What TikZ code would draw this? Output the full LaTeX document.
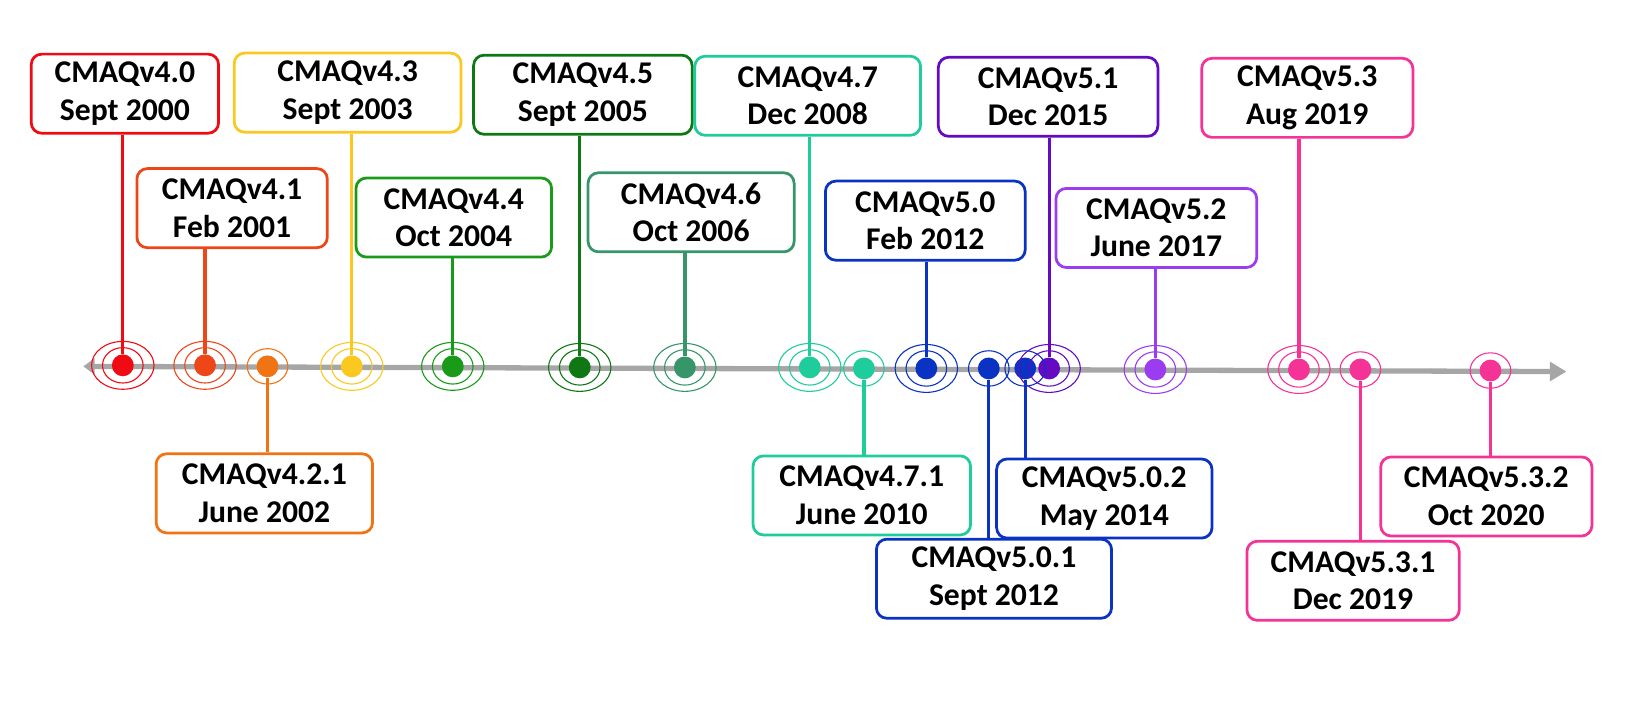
\documentclass[tikz,border=0pt]{standalone}
\usepackage{fontspec}
\setmainfont{Carlito}
\usepackage{xcolor}
\usepackage{tikz}
\usetikzlibrary{positioning,arrows.meta}
\definecolor{v40color}{RGB}{240,10,20}
\definecolor{v41color}{RGB}{236,70,25}
\definecolor{v42color}{RGB}{240,115,20}
\definecolor{v43color}{RGB}{250,200,30}
\definecolor{v44color}{RGB}{25,155,25}
\definecolor{v45color}{RGB}{15,120,20}
\definecolor{v46color}{RGB}{55,150,105}
\definecolor{v47color}{RGB}{30,205,155}
\definecolor{v50color}{RGB}{10,50,195}
\definecolor{v51color}{RGB}{100,10,195}
\definecolor{v52color}{RGB}{155,60,240}
\definecolor{v53color}{RGB}{245,50,150}
\definecolor{axiscolor}{RGB}{166,166,166}
\tikzset{
    release box/.style={rectangle, rounded corners=0.2cm, draw=#1, line width=1.5pt, fill=white, align=center, inner sep=0pt, minimum height=1.52cm, font=\bfseries\fontsize{17.3}{20.5}\selectfont},
    release dot/.style={circle, fill=#1, inner sep=0pt, minimum size=0.42cm},
    ring/.style={draw=#1, line width=0.6pt},
    stem/.style={draw=#1, line width=1.8pt},
    timeline arrow/.style={{Triangle[length=0.22cm,width=0.3cm]}-{Triangle[length=0.32cm,width=0.36cm]}, line width=2.9pt, draw=axiscolor}
}
\begin{document}
\begin{tikzpicture}[x=0.02cm, y=-0.02cm]
\useasboundingbox (0,0) rectangle (1568,692);
\coordinate (tl start) at (80,352);
\coordinate (tl end) at (1505,357);
\draw[timeline arrow] (tl start) -- (tl end);

\node[release dot=v40color] (v40) at (118,351) {};
\node[release dot=v41color] (v41) at (197,351) {};
\node[release dot=v42color] (v421) at (257,352) {};
\node[release dot=v43color] (v43) at (338,352) {};
\node[release dot=v44color] (v44) at (435,352) {};
\node[release dot=v45color] (v45) at (557,353) {};
\node[release dot=v46color] (v46) at (658,353) {};
\node[release dot=v47color] (v47) at (778,353) {};
\node[release dot=v47color] (v471) at (830,354) {};
\node[release dot=v50color] (v50) at (890,354) {};
\node[release dot=v50color] (v501) at (950,354) {};
\node[release dot=v50color] (v502) at (985,354) {};
\node[release dot=v51color] (v51) at (1008,354) {};
\node[release dot=v52color] (v52) at (1110,355) {};
\node[release dot=v53color] (v53) at (1248,355) {};
\node[release dot=v53color] (v531) at (1307,355) {};
\node[release dot=v53color] (v532) at (1432,356) {};

\draw[ring=v40color] (v40) ellipse [x radius=19.5, y radius=17] (v40) ellipse [x radius=30, y radius=23];
\draw[ring=v41color] (v41) ellipse [x radius=19.5, y radius=17] (v41) ellipse [x radius=30, y radius=23];
\draw[ring=v42color] (v421) ellipse [x radius=19.5, y radius=17];
\draw[ring=v43color] (v43) ellipse [x radius=19.5, y radius=17] (v43) ellipse [x radius=30, y radius=23];
\draw[ring=v44color] (v44) ellipse [x radius=19.5, y radius=17] (v44) ellipse [x radius=30, y radius=23];
\draw[ring=v45color] (v45) ellipse [x radius=19.5, y radius=17] (v45) ellipse [x radius=30, y radius=23];
\draw[ring=v46color] (v46) ellipse [x radius=19.5, y radius=17] (v46) ellipse [x radius=30, y radius=23];
\draw[ring=v47color] (v47) ellipse [x radius=19.5, y radius=17] (v47) ellipse [x radius=30, y radius=23];
\draw[ring=v47color] (v471) ellipse [x radius=19.5, y radius=17];
\draw[ring=v50color] (v50) ellipse [x radius=19.5, y radius=17] (v50) ellipse [x radius=30, y radius=23];
\draw[ring=v50color] (v501) ellipse [x radius=19.5, y radius=17];
\draw[ring=v50color] (v502) ellipse [x radius=19.5, y radius=17];
\draw[ring=v51color] (v51) ellipse [x radius=19.5, y radius=17] (v51) ellipse [x radius=30, y radius=23];
\draw[ring=v52color] (v52) ellipse [x radius=19.5, y radius=17] (v52) ellipse [x radius=30, y radius=23];
\draw[ring=v53color] (v53) ellipse [x radius=19.5, y radius=17] (v53) ellipse [x radius=30, y radius=23];
\draw[ring=v53color] (v531) ellipse [x radius=19.5, y radius=17];
\draw[ring=v53color] (v532) ellipse [x radius=19.5, y radius=17];

\node[release box=v40color, minimum width=3.6cm] (b40) at (120,90) {CMAQv4.0\\Sept 2000};
\node[release box=v43color, minimum width=4.36cm] (b43) at (334,89) {CMAQv4.3\\Sept 2003};
\node[release box=v45color, minimum width=4.2cm] (b45) at (560,91) {CMAQv4.5\\Sept 2005};
\node[release box=v47color, minimum width=4.34cm] (b47) at (776,92) {CMAQv4.7\\Dec 2008};
\node[release box=v51color, minimum width=4.22cm] (b51) at (1007,93) {CMAQv5.1\\Dec 2015};
\node[release box=v53color, minimum width=4.06cm] (b53) at (1256,94) {CMAQv5.3\\Aug 2019};
\node[release box=v41color, minimum width=3.66cm] (b41) at (223,200) {CMAQv4.1\\Feb 2001};
\node[release box=v44color, minimum width=3.76cm] (b44) at (436,209) {CMAQv4.4\\Oct 2004};
\node[release box=v46color, minimum width=3.96cm] (b46) at (664,204) {CMAQv4.6\\Oct 2006};
\node[release box=v50color, minimum width=3.84cm] (b50) at (889,212) {CMAQv5.0\\Feb 2012};
\node[release box=v52color, minimum width=3.86cm] (b52) at (1111,219) {CMAQv5.2\\June 2017};
\node[release box=v42color, minimum width=4.16cm] (b421) at (254,474) {CMAQv4.2.1\\June 2002};
\node[release box=v47color, minimum width=4.18cm] (b471) at (828,476) {CMAQv4.7.1\\June 2010};
\node[release box=v50color, minimum width=4.52cm] (b501) at (955,556) {CMAQv5.0.1\\Sept 2012};
\node[release box=v50color, minimum width=4.14cm] (b502) at (1061,479) {CMAQv5.0.2\\May 2014};
\node[release box=v53color, minimum width=4.08cm] (b531) at (1300,558) {CMAQv5.3.1\\Dec 2019};
\node[release box=v53color, minimum width=4.06cm] (b532) at (1428,477) {CMAQv5.3.2\\Oct 2020};

\draw[stem=v40color] (v40) -- (v40 |- b40.south);
\draw[stem=v41color] (v41) -- (v41 |- b41.south);
\draw[stem=v42color] (v421) -- (v421 |- b421.north);
\draw[stem=v43color] (v43) -- (v43 |- b43.south);
\draw[stem=v44color] (v44) -- (v44 |- b44.south);
\draw[stem=v45color] (v45) -- (v45 |- b45.south);
\draw[stem=v46color] (v46) -- (v46 |- b46.south);
\draw[stem=v47color] (v47) -- (v47 |- b47.south);
\draw[stem=v47color] (v471) -- (v471 |- b471.north);
\draw[stem=v50color] (v50) -- (v50 |- b50.south);
\draw[stem=v50color] (v501) -- (v501 |- b501.north);
\draw[stem=v50color] (v502) -- (v502 |- b502.north);
\draw[stem=v51color] (v51) -- (v51 |- b51.south);
\draw[stem=v52color] (v52) -- (v52 |- b52.south);
\draw[stem=v53color] (v53) -- (v53 |- b53.south);
\draw[stem=v53color] (v531) -- (v531 |- b531.north);
\draw[stem=v53color] (v532) -- (v532 |- b532.north);
\end{tikzpicture}
\end{document}
